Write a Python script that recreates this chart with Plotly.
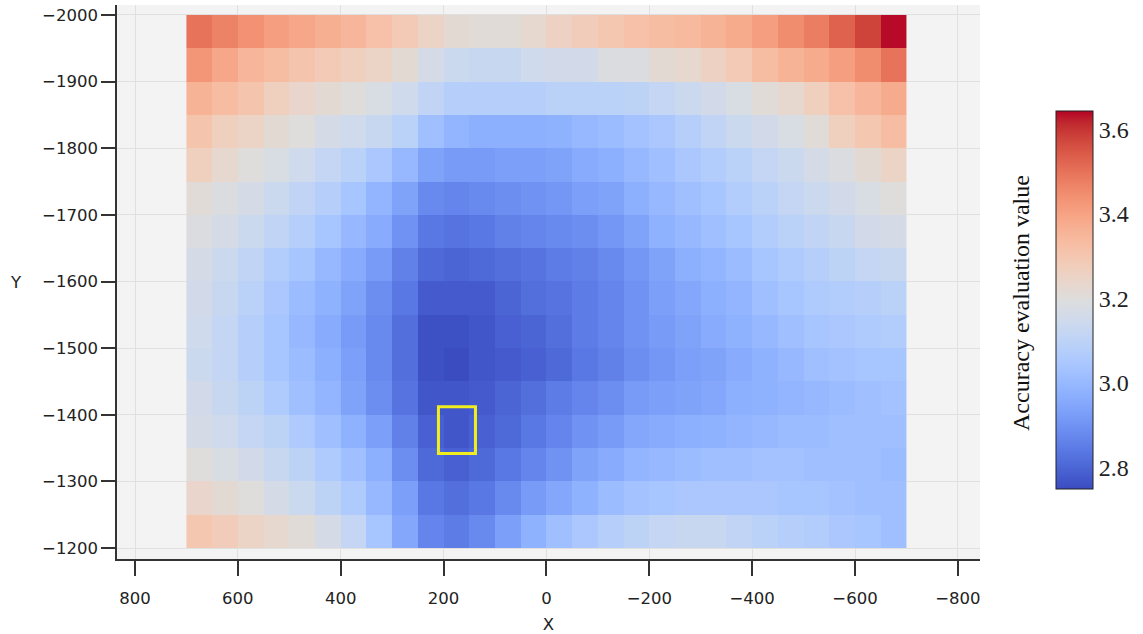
import plotly.graph_objects as go

# ---- data ----
x_centers = [675, 625, 575, 525, 475, 425, 375, 325, 275, 225, 175, 125, 75, 25,
             -25, -75, -125, -175, -225, -275, -325, -375, -425, -475, -525, -575, -625, -675]
y_centers = [-1975, -1925, -1875, -1825, -1775, -1725, -1675, -1625,
             -1575, -1525, -1475, -1425, -1375, -1325, -1275, -1225]

row_m1975 = [3.50,3.47,3.44,3.41,3.39,3.37,3.35,3.32,3.29,3.25,3.22,3.21,3.21,3.23,3.26,3.28,3.30,3.32,3.33,3.34,3.36,3.38,3.41,3.45,3.48,3.53,3.58,3.64]
row_m1925 = [3.43,3.39,3.35,3.33,3.31,3.29,3.27,3.25,3.22,3.17,3.14,3.13,3.13,3.15,3.16,3.16,3.19,3.19,3.22,3.23,3.26,3.29,3.33,3.36,3.38,3.41,3.45,3.50]
row_m1875 = [3.36,3.33,3.31,3.27,3.24,3.22,3.20,3.18,3.15,3.11,3.08,3.08,3.08,3.08,3.09,3.09,3.09,3.10,3.12,3.14,3.16,3.18,3.21,3.23,3.27,3.32,3.35,3.38]
row_m1825 = [3.31,3.27,3.25,3.22,3.20,3.17,3.15,3.13,3.09,3.02,2.99,2.97,2.97,2.97,2.98,3.00,3.01,3.03,3.05,3.08,3.11,3.14,3.16,3.18,3.21,3.27,3.30,3.33]
row_m1775 = [3.27,3.23,3.20,3.18,3.15,3.12,3.09,3.05,3.00,2.94,2.92,2.92,2.93,2.93,2.94,2.96,2.97,3.00,3.02,3.05,3.07,3.09,3.12,3.14,3.17,3.19,3.22,3.25]
row_m1725 = [3.21,3.19,3.17,3.14,3.11,3.08,3.04,2.99,2.94,2.88,2.87,2.88,2.89,2.90,2.91,2.93,2.94,2.97,3.00,3.02,3.04,3.07,3.09,3.12,3.14,3.16,3.18,3.20]
row_m1675 = [3.19,3.17,3.14,3.11,3.08,3.04,3.00,2.96,2.90,2.84,2.83,2.84,2.86,2.87,2.88,2.89,2.91,2.94,2.98,3.00,3.02,3.04,3.07,3.09,3.11,3.13,3.16,3.17]
row_m1625 = [3.17,3.14,3.11,3.07,3.04,3.00,2.96,2.92,2.86,2.81,2.80,2.81,2.82,2.83,2.85,2.86,2.88,2.91,2.94,2.97,2.99,3.01,3.04,3.06,3.08,3.10,3.12,3.13]
row_m1575 = [3.16,3.13,3.09,3.05,3.01,2.98,2.94,2.89,2.84,2.78,2.78,2.78,2.80,2.82,2.83,2.85,2.87,2.90,2.93,2.95,2.97,2.99,3.02,3.04,3.06,3.07,3.08,3.09]
row_m1525 = [3.15,3.12,3.08,3.04,3.00,2.96,2.92,2.88,2.82,2.76,2.76,2.77,2.79,2.80,2.82,2.85,2.87,2.90,2.92,2.94,2.96,2.98,3.00,3.02,3.04,3.05,3.06,3.07]
row_m1475 = [3.14,3.12,3.08,3.04,3.01,2.97,2.93,2.88,2.82,2.76,2.75,2.77,2.78,2.79,2.81,2.84,2.86,2.89,2.91,2.93,2.94,2.96,2.98,3.00,3.02,3.03,3.04,3.04]
row_m1425 = [3.16,3.13,3.10,3.06,3.02,2.99,2.94,2.89,2.83,2.77,2.77,2.78,2.80,2.82,2.85,2.87,2.89,2.92,2.93,2.94,2.95,2.97,2.98,2.99,3.00,3.01,3.02,3.03]
row_m1375 = [3.17,3.15,3.12,3.10,3.06,3.02,2.98,2.93,2.86,2.79,2.77,2.79,2.81,2.84,2.87,2.90,2.92,2.95,2.96,2.97,2.98,2.99,3.00,3.01,3.01,3.02,3.02,3.02]
row_m1325 = [3.20,3.18,3.16,3.13,3.10,3.06,3.02,2.97,2.89,2.81,2.79,2.81,2.84,2.87,2.90,2.94,2.96,2.99,3.00,3.01,3.02,3.02,3.03,3.03,3.02,3.02,3.02,3.01]
row_m1275 = [3.24,3.22,3.20,3.17,3.14,3.10,3.06,3.00,2.93,2.84,2.82,2.84,2.88,2.92,2.95,2.98,3.01,3.03,3.04,3.05,3.05,3.05,3.05,3.04,3.04,3.03,3.02,3.02]
row_m1225 = [3.30,3.28,3.25,3.23,3.21,3.17,3.12,3.04,2.95,2.87,2.85,2.88,2.93,2.98,3.02,3.05,3.08,3.10,3.12,3.13,3.13,3.11,3.09,3.08,3.07,3.05,3.04,3.02]

z_values = [row_m1975, row_m1925, row_m1875, row_m1825, row_m1775, row_m1725, row_m1675, row_m1625,
            row_m1575, row_m1525, row_m1475, row_m1425, row_m1375, row_m1325, row_m1275, row_m1225]

x_ticks = [800, 600, 400, 200, 0, -200, -400, -600, -800]
y_ticks = [-2000, -1900, -1800, -1700, -1600, -1500, -1400, -1300, -1200]
cbar_ticks = [2.8, 3.0, 3.2, 3.4, 3.6]
z_min, z_max = 2.75, 3.645

# highlighted cell (x0, x1, y0, y1)
highlight_box = [210, 138, -1412, -1342]

colorbar_title = "Accuracy evaluation value"

# matplotlib "coolwarm"
_cw = [
    (0.2298057, 0.298717966, 0.753683153), (0.26623388, 0.353094838, 0.801466763),
    (0.30386891, 0.406535296, 0.84495867), (0.342804478, 0.458757618, 0.883725899),
    (0.38301334, 0.50941904, 0.917387822), (0.424369608, 0.558148092, 0.945619588),
    (0.46666708, 0.604562568, 0.968154911), (0.509635204, 0.648280772, 0.98478814),
    (0.552953156, 0.688929332, 0.995375608), (0.596262162, 0.726149107, 0.999836203),
    (0.639176211, 0.759599947, 0.998151185), (0.681291281, 0.788964712, 0.990363227),
    (0.722193294, 0.813952739, 0.976574709), (0.761464949, 0.834302879, 0.956945269),
    (0.798691636, 0.849786142, 0.931688648), (0.833466556, 0.860207984, 0.901068838),
    (0.865395197, 0.86541021, 0.865395561), (0.897787179, 0.848937047, 0.820880546),
    (0.924127593, 0.827384882, 0.774508472), (0.944468518, 0.800927443, 0.726736146),
    (0.958852946, 0.769767752, 0.678007945), (0.96732803, 0.734132809, 0.628751763),
    (0.969954137, 0.694266682, 0.579375448), (0.966811177, 0.650421156, 0.530263762),
    (0.958003065, 0.602842431, 0.481775914), (0.943660866, 0.551750968, 0.434243684),
    (0.923944917, 0.49730856, 0.387970225), (0.89904617, 0.439559467, 0.343229596),
    (0.869186849, 0.378313092, 0.300267182), (0.834620542, 0.312874446, 0.259301199),
    (0.795631745, 0.24128379, 0.220525627), (0.752534934, 0.157246067, 0.184115123),
    (0.705673158, 0.01555616, 0.150232812),
]
n = len(_cw) - 1
coolwarm = [[i / n, "rgb(%d,%d,%d)" % tuple(round(c * 255) for c in rgb)] for i, rgb in enumerate(_cw)]

W, H = 1143, 634
L, R, T, B = 117, 980, 5, 559
pw, ph = R - L, B - T

fig = go.Figure()
fig.add_trace(go.Heatmap(
    x=x_centers, y=y_centers, z=z_values,
    colorscale=coolwarm, zmin=z_min, zmax=z_max,
    colorbar=dict(
        x=(1056 - L) / pw, xanchor="left",
        y=(B - 299.5) / ph, yanchor="middle",
        thickness=37, len=378 / ph, lenmode="fraction",
        xpad=0, ypad=0,
        outlinecolor="#222222", outlinewidth=1,
        tickvals=cbar_ticks, tickformat=".1f", ticks="",
        tickfont=dict(family="Liberation Serif", size=24, color="#222222"),
    ),
))

fig.add_shape(type="rect", xref="x", yref="y",
              x0=highlight_box[0], x1=highlight_box[1], y0=highlight_box[2], y1=highlight_box[3],
              line=dict(color="#f0ee1e", width=3), fillcolor="rgba(0,0,0,0)")

axis_font = dict(family="DejaVu Sans", size=16.5, color="#222222")
fig.update_xaxes(
    range=[835, -843], tickvals=x_ticks, ticks="outside", ticklen=15, tickwidth=1.5,
    tickcolor="#333333", showline=True, linecolor="#333333", linewidth=1.5,
    showgrid=True, gridcolor="#e0e0e0", gridwidth=1, zeroline=False,
    tickfont=axis_font, ticklabelstandoff=8,
    title=dict(text="X", font=axis_font, standoff=14),
)
fig.update_yaxes(
    range=[-1183.5, -2015], tickvals=y_ticks, ticks="outside", ticklen=14, tickwidth=1.5,
    tickcolor="#333333", showline=True, linecolor="#333333", linewidth=1.5,
    showgrid=True, gridcolor="#e0e0e0", gridwidth=1, zeroline=False,
    tickfont=axis_font,
)

fig.add_annotation(text="Y", xref="paper", yref="paper",
                   x=(16 - L) / pw, y=(B - 282) / ph, showarrow=False,
                   font=axis_font, xanchor="center", yanchor="middle")
fig.add_annotation(text=colorbar_title, xref="paper", yref="paper",
                   x=(1021 - L) / pw, y=(B - 303) / ph, showarrow=False, textangle=-90,
                   font=dict(family="Liberation Serif", size=24, color="#111111"),
                   xanchor="center", yanchor="middle")

fig.update_layout(
    width=W, height=H,
    margin=dict(l=L, r=W - R, t=T, b=H - B, autoexpand=False),
    paper_bgcolor="white", plot_bgcolor="#f3f3f3",
    showlegend=False,
)

fig.write_html("out.html")
